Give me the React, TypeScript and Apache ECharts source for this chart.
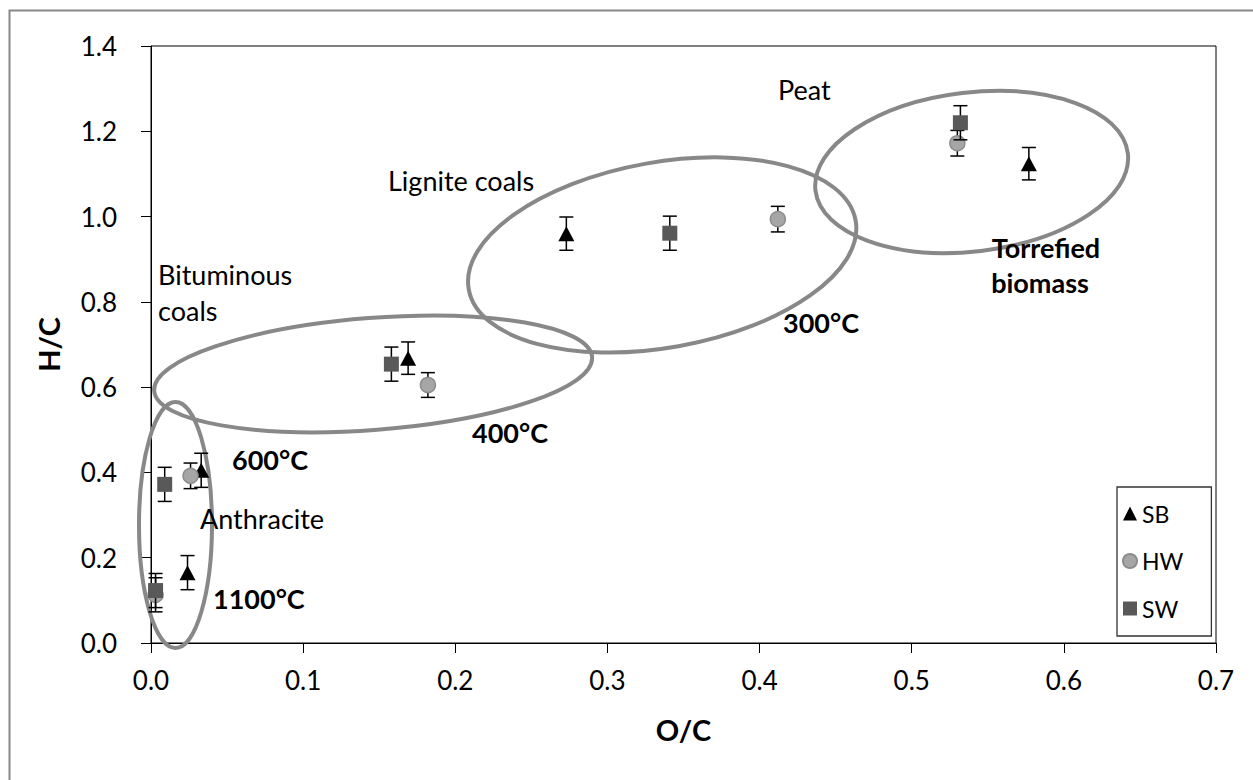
import React, { useEffect, useRef } from "react";
import * as echarts from "echarts";

// O/C (x) and H/C (y) with ± error on H/C
const sbX = [0.024, 0.033, 0.169, 0.273, 0.577];
const sbY = [0.165, 0.405, 0.668, 0.960, 1.124];
const sbErr = [0.04, 0.04, 0.038, 0.039, 0.038];

const hwX = [0.003, 0.026, 0.182, 0.412, 0.530];
const hwY = [0.113, 0.392, 0.605, 0.994, 1.172];
const hwErr = [0.04, 0.03, 0.029, 0.03, 0.03];

const swX = [0.003, 0.009, 0.158, 0.341, 0.532];
const swY = [0.123, 0.372, 0.654, 0.961, 1.220];
const swErr = [0.04, 0.04, 0.04, 0.04, 0.04];

// region ellipses: centre (O/C, H/C), radii, tilt
const regionNames = ["Anthracite", "Bituminous", "Lignite", "Peat"];
const regionCx = [0.0161, 0.146, 0.336, 0.5394];
const regionCy = [0.2767, 0.631, 0.91, 1.1046];
const regionRx = [36.5, 219.6, 196.4, 157.3];
const regionRy = [123, 56, 92.7, 79.5];
const regionTilt = [0, 4.4, 10.1, 6.8];

const xTicks = ["0.0", "0.1", "0.2", "0.3", "0.4", "0.5", "0.6", "0.7"];
const yTicks = ["0.0", "0.2", "0.4", "0.6", "0.8", "1.0", "1.2", "1.4"];

const FONT = "Lato";

function zip(xs: number[], ys: number[]) {
  return xs.map((x, i) => [x, ys[i]]);
}
function zipErr(xs: number[], ys: number[], es: number[]) {
  return xs.map((x, i) => [x, ys[i], es[i]]);
}

const errRender = (params: any, api: any) => {
  const x = api.value(0);
  const y = api.value(1);
  const e = api.value(2);
  const top = api.coord([x, y + e]);
  const bot = api.coord([x, y - e]);
  const hw = 7;
  const style = { stroke: "#000", lineWidth: 1.5 };
  return {
    type: "group",
    children: [
      { type: "line", shape: { x1: top[0], y1: top[1], x2: bot[0], y2: bot[1] }, style },
      { type: "line", shape: { x1: top[0] - hw, y1: top[1], x2: top[0] + hw, y2: top[1] }, style },
      { type: "line", shape: { x1: bot[0] - hw, y1: bot[1], x2: bot[0] + hw, y2: bot[1] }, style },
    ],
  };
};

const ellipseRender = (params: any, api: any) => {
  const i = params.dataIndex;
  const p = api.coord([api.value(0), api.value(1)]);
  return {
    type: "ellipse",
    x: p[0],
    y: p[1],
    rotation: (regionTilt[i] * Math.PI) / 180,
    shape: { cx: 0, cy: 0, rx: regionRx[i], ry: regionRy[i] },
    style: { fill: "none", stroke: "#888888", lineWidth: 4 },
  };
};

export default function App() {
  const ref = useRef<HTMLDivElement>(null);
  useEffect(() => {
    document.body.style.margin = "0";
    const chart = echarts.init(ref.current!, null, { renderer: "svg" });
    const annText = (text: string, x: number, y: number, bold = false, align = "left") => ({
      type: "text",
      x,
      y,
      style: {
        text,
        fill: "#000",
        font: `${bold ? "bold " : ""}27px ${FONT}`,
        textAlign: align,
        textVerticalAlign: "middle",
      },
      z: 100,
    });
    chart.setOption({
      animation: false,
      backgroundColor: "#fff",
      grid: {
        left: 151,
        right: 37,
        top: 46,
        bottom: 137,
        show: true,
        borderColor: "#000",
        borderWidth: 1,
      },
      xAxis: {
        type: "value",
        min: 0,
        max: 0.7,
        interval: 0.1,
        name: "O/C",
        nameLocation: "middle",
        nameGap: 72,
        nameTextStyle: { fontFamily: FONT, fontWeight: "bold", fontSize: 29, color: "#000" },
        axisLine: { onZero: false, lineStyle: { color: "#000", width: 1 } },
        axisTick: { show: true, inside: false, length: 10, lineStyle: { color: "#000" } },
        splitLine: { show: false },
        axisLabel: {
          margin: 24,
          fontFamily: FONT,
          fontSize: 26,
          color: "#000",
          formatter: (v: number) => xTicks[Math.round(v * 10)],
        },
      },
      yAxis: {
        type: "value",
        min: 0,
        max: 1.4,
        interval: 0.2,
        name: "H/C",
        nameLocation: "middle",
        nameGap: 88,
        nameTextStyle: { fontFamily: FONT, fontWeight: "bold", fontSize: 29, color: "#000" },
        axisLine: { show: true, onZero: false, lineStyle: { color: "#000", width: 1 } },
        axisTick: { show: true, inside: false, length: 10, lineStyle: { color: "#000" } },
        splitLine: { show: false },
        axisLabel: {
          margin: 34,
          fontFamily: FONT,
          fontSize: 26,
          color: "#000",
          formatter: (v: number) => yTicks[Math.round(v * 5)],
        },
      },
      legend: {
        data: ["SB", "HW", "SW"],
        orient: "vertical",
        left: 1117,
        top: 487,
        padding: [15, 28, 16, 5],
        itemGap: 24.5,
        itemWidth: 14,
        itemHeight: 14,
        borderColor: "#333",
        borderWidth: 1.3,
        backgroundColor: "#fff",
        textStyle: { fontFamily: FONT, fontSize: 23, color: "#000", lineHeight: 22 },
      },
      graphic: [
        {
          type: "rect",
          shape: { x: 9.5, y: 10.5, width: 1400, height: 1000 },
          style: { fill: "none", stroke: "#878787", lineWidth: 2 },
          silent: true,
          z: 100,
        },
        annText("Peat", 778, 89),
        annText("Lignite coals", 388, 180),
        annText("Bituminous", 158, 274),
        annText("coals", 158, 310),
        annText("Anthracite", 200, 518),
        annText("600°C", 232, 459, true),
        annText("1100°C", 213, 598, true),
        annText("400°C", 472, 432, true),
        annText("300°C", 783, 322, true),
        annText("Torrefied", 1046, 247, true, "center"),
        annText("biomass", 1040, 282, true, "center"),
      ],
      series: [
        {
          name: "regions",
          type: "custom",
          renderItem: ellipseRender,
          clip: false,
          data: regionNames.map((n, i) => ({ name: n, value: [regionCx[i], regionCy[i]] })),
          encode: { x: 0, y: 1 },
          z: 1,
          silent: true,
        },
        {
          name: "SB err",
          type: "custom",
          renderItem: errRender,
          data: zipErr(sbX, sbY, sbErr),
          encode: { x: 0, y: 1 },
          z: 3,
        },
        {
          name: "SB",
          type: "scatter",
          symbol: "triangle",
          symbolSize: [16, 15],
          itemStyle: { color: "#000", opacity: 1 },
          data: zip(sbX, sbY),
          z: 4,
        },
        {
          name: "HW err",
          type: "custom",
          renderItem: errRender,
          data: zipErr(hwX, hwY, hwErr),
          encode: { x: 0, y: 1 },
          z: 5,
        },
        {
          name: "HW",
          type: "scatter",
          symbol: "circle",
          symbolSize: 15,
          itemStyle: { color: "#a6a6a6", borderColor: "#8c8c8c", borderWidth: 1.5, opacity: 1 },
          data: zip(hwX, hwY),
          z: 6,
        },
        {
          name: "SW err",
          type: "custom",
          renderItem: errRender,
          data: zipErr(swX, swY, swErr),
          encode: { x: 0, y: 1 },
          z: 7,
        },
        {
          name: "SW",
          type: "scatter",
          symbol: "rect",
          symbolSize: 15,
          itemStyle: { color: "#595959", opacity: 1 },
          data: zip(swX, swY),
          z: 8,
        },
      ],
    });
    return () => chart.dispose();
  }, []);
  return <div ref={ref} style={{ width: 1253, height: 780 }} />;
}
